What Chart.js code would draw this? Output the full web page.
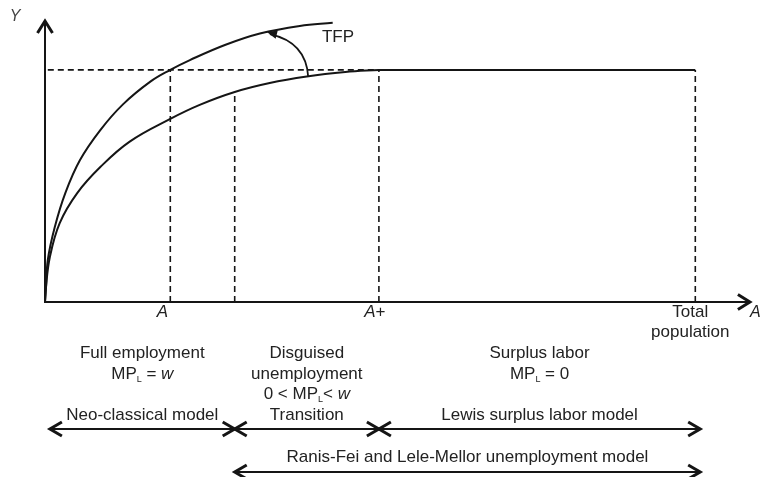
<!DOCTYPE html>
<html>
<head>
<meta charset="utf-8">
<script src="https://cdn.jsdelivr.net/npm/chart.js@4.4.0/dist/chart.umd.min.js"></script>
<style>
  html, body { margin: 0; padding: 0; background: #fff; }
  canvas { display: block; }
</style>
</head>
<body>
<canvas id="lewis" width="760" height="477"></canvas>
<script>
// production curves (labour on x, output on y, both 0..100)
const upperX = [0, 0.1, 0.4, 1.4, 2.9, 5.0, 7.9, 11.1, 15.0, 17.9, 20.7, 25.7, 30.7, 36.4, 41.1];
const upperY = [0, 3.2, 15.0, 26.8, 38.9, 50.7, 61.4, 70.5, 78.6, 82.9, 86.4, 91.8, 95.9, 98.6, 99.7];
const lowerX = [0, 0.1, 0.7, 2.1, 4.6, 7.9, 12.1, 17.9, 22.1, 27.1, 32.1, 37.4, 42.9, 47.7];
const lowerY = [0, 4.3, 16.1, 28.2, 38.9, 48.2, 57.3, 65.4, 70.4, 75.0, 78.2, 80.5, 82.1, 82.9];
const plateauX = [47.7, 92.9];
const plateauY = 82.9;

// reference marks on the labour axis
const markX = [17.9, 27.1, 47.7, 92.9];
const markTop = [82.9, 75.0, 82.9, 82.9];
const tickLabels = ['*A*', '', '*A*+', 'Total|population'];

// TFP shift arrow (from lower curve up to upper curve)
const tfpFrom = { x: 37.6, y: 80.4 };
const tfpTo = { x: 31.7, y: 96.4 };

// regimes below the axis
const regionSpans = [[0.7, 27.1], [27.1, 47.7], [47.7, 93.6]];
const regionTitles = [
  ['Full employment', 'MP_L = *w*'],
  ['Disguised', 'unemployment', '0 < MP_L< *w*'],
  ['Surplus labor', 'MP_L = 0']
];
const modelLabels = ['Neo-classical model', 'Transition', 'Lewis surplus labor model'];
const wideSpan = [27.1, 93.6];
const wideLabel = 'Ranis-Fei and Lele-Mellor unemployment model';

const INK = '#151515';
const FONT = '"Liberation Sans", Arial, sans-serif';

function pts(xs, ys) {
  return xs.map((v, i) => ({ x: v, y: ys[i] }));
}

// text with _X subscripts and *italic* runs, centred on cx
function richText(ctx, str, cx, cy, size) {
  const segs = [];
  let italic = false, buf = '';
  for (let i = 0; i < str.length; i++) {
    const c = str[i];
    if (c === '*') {
      if (buf) segs.push({ t: buf, it: italic, sub: false });
      buf = ''; italic = !italic;
    } else if (c === '_') {
      if (buf) segs.push({ t: buf, it: italic, sub: false });
      buf = '';
      segs.push({ t: str[i + 1], it: false, sub: true });
      i++;
    } else buf += c;
  }
  if (buf) segs.push({ t: buf, it: italic, sub: false });
  const fontOf = s => (s.it ? 'italic ' : '') + (s.sub ? Math.round(size * 0.55) : size) + 'px ' + FONT;
  let w = 0;
  segs.forEach(s => { ctx.font = fontOf(s); s.w = ctx.measureText(s.t).width; w += s.w; });
  let x = cx - w / 2;
  ctx.textAlign = 'left';
  ctx.textBaseline = 'middle';
  segs.forEach(s => {
    ctx.font = fontOf(s);
    ctx.fillText(s.t, x, s.sub ? cy + size * 0.3 : cy);
    x += s.w;
  });
}

function chevron(ctx, tx, ty, dx, dy, len, half) {
  const bx = tx - dx * len, by = ty - dy * len;
  ctx.beginPath();
  ctx.moveTo(bx - dy * half, by + dx * half);
  ctx.lineTo(tx, ty);
  ctx.lineTo(bx + dy * half, by - dx * half);
  ctx.stroke();
}

function dblArrow(ctx, x1, x2, y) {
  ctx.lineWidth = 2;
  ctx.beginPath();
  ctx.moveTo(x1 + 2, y);
  ctx.lineTo(x2 - 2, y);
  ctx.stroke();
  ctx.lineWidth = 3;
  chevron(ctx, x1, y, -1, 0, 12, 7);
  chevron(ctx, x2, y, 1, 0, 12, 7);
}

const overlay = {
  id: 'overlay',
  afterDatasetsDraw(chart) {
    const { ctx, scales: { x, y } } = chart;
    const px = v => x.getPixelForValue(v);
    const py = v => y.getPixelForValue(v);
    const ox = px(0), oy = py(0);
    ctx.save();
    ctx.strokeStyle = INK;
    ctx.fillStyle = INK;
    ctx.lineCap = 'butt';
    ctx.lineJoin = 'miter';

    // axes with arrow heads
    ctx.lineWidth = 2;
    ctx.beginPath();
    ctx.moveTo(ox, oy + 1);
    ctx.lineTo(ox, py(100) + 2);
    ctx.moveTo(ox, oy);
    ctx.lineTo(px(100.7) - 2, oy);
    ctx.stroke();
    ctx.lineWidth = 3;
    chevron(ctx, ox, py(100) - 1, 0, -1, 12, 7.5);
    chevron(ctx, px(100.7), oy, 1, 0, 12, 7.5);

    // axis names
    ctx.fillStyle = '#444';
    ctx.font = 'italic 16px ' + FONT;
    ctx.textAlign = 'center';
    ctx.textBaseline = 'middle';
    ctx.fillText('Y', 15, 17);
    ctx.fillStyle = '#222';
    ctx.textAlign = 'left';
    ctx.fillText('A', px(100.7), oy + 11);

    // tick labels
    const tickShift = [-8, 0, -4, -5];
    tickLabels.forEach((lab, i) => {
      if (!lab) return;
      lab.split('|').forEach((ln, k) => {
        richText(ctx, ln, px(markX[i]) + tickShift[i], oy + 10 + k * 20, 17);
      });
    });

    // TFP arrow
    const a = { x: px(tfpFrom.x), y: py(tfpFrom.y) };
    const b = { x: px(tfpTo.x), y: py(tfpTo.y) };
    const cx = a.x - 2, cy = b.y + 10;
    ctx.fillStyle = INK;
    ctx.lineWidth = 1.8;
    ctx.beginPath();
    ctx.moveTo(a.x, a.y);
    ctx.quadraticCurveTo(cx, cy, b.x + 3, b.y + 2);
    ctx.stroke();
    const ang = Math.atan2(b.y - cy, b.x - cx);
    ctx.beginPath();
    ctx.moveTo(b.x, b.y);
    ctx.lineTo(b.x - 11 * Math.cos(ang - 0.4), b.y - 11 * Math.sin(ang - 0.4));
    ctx.lineTo(b.x - 11 * Math.cos(ang + 0.4), b.y - 11 * Math.sin(ang + 0.4));
    ctx.closePath();
    ctx.fill();
    ctx.fillStyle = '#222';
    ctx.font = '17px ' + FONT;
    ctx.textAlign = 'left';
    ctx.fillText('TFP', px(tfpTo.x) + 55, py(tfpTo.y) + 5);

    // regimes
    const rowY = [353, 374, 394];
    regionSpans.forEach((sp, i) => {
      const mid = (px(sp[0]) + px(sp[1])) / 2;
      ctx.fillStyle = '#222';
      regionTitles[i].forEach((ln, k) => richText(ctx, ln, mid, rowY[k], 17));
      richText(ctx, modelLabels[i], mid, 415, 17);
      dblArrow(ctx, px(sp[0]), px(sp[1]), 429);
    });
    const wm = (px(wideSpan[0]) + px(wideSpan[1])) / 2;
    richText(ctx, wideLabel, wm, 457, 17);
    dblArrow(ctx, px(wideSpan[0]), px(wideSpan[1]), 472);

    ctx.restore();
  }
};

const dashed = { borderColor: INK, borderWidth: 1.6, borderDash: [6, 4], pointRadius: 0, showLine: true, clip: false };
const solid = { borderColor: INK, borderWidth: 2, pointRadius: 0, showLine: true, tension: 0.4, clip: false };
const markLines = markX.map((mx, i) => Object.assign({
  data: [{ x: mx, y: 0 }, { x: mx, y: markTop[i] }]
}, dashed));

new Chart(document.getElementById('lewis'), {
  type: 'scatter',
  data: {
    datasets: [
      Object.assign({ data: [{ x: 0.4, y: plateauY }, { x: markX[2], y: plateauY }] }, dashed),
      ...markLines,
      Object.assign({ data: pts(upperX, upperY) }, solid),
      Object.assign({ data: pts(lowerX, lowerY) }, solid),
      Object.assign({ data: plateauX.map(v => ({ x: v, y: plateauY })) }, solid)
    ]
  },
  options: {
    responsive: false,
    animation: false,
    devicePixelRatio: 1,
    layout: { padding: { left: 45, right: 15, top: 22, bottom: 175 } },
    plugins: { legend: { display: false }, tooltip: { enabled: false } },
    scales: {
      x: { type: 'linear', min: 0, max: 100, display: false },
      y: { type: 'linear', min: 0, max: 100, display: false }
    }
  },
  plugins: [overlay]
});
</script>
</body>
</html>
